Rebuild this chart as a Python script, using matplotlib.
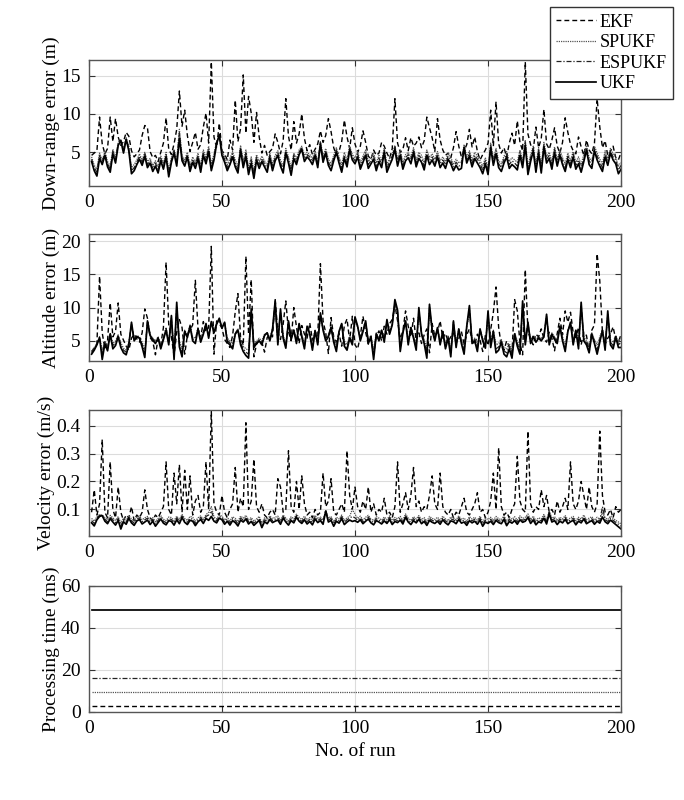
import numpy as np
import matplotlib
matplotlib.use("Agg")
import matplotlib.pyplot as plt

plt.rcParams['font.family'] = ['Liberation Serif', 'DejaVu Serif']
plt.rcParams['mathtext.fontset'] = 'stix'

runs = np.arange(1, 201)
filters = ['EKF', 'SPUKF', 'ESPUKF', 'UKF']

# Down-range error (m)
dr_ekf = [4.6, 4.9, 5.2, 9.6, 6.1, 4.8, 5.5, 9.6, 6.4, 9.4,
          7.0, 5.9, 6.4, 7.6, 7.1, 5.2, 4.4, 4.8, 5.3, 7.2,
          8.5, 8.2, 5.1, 4.3, 4.6, 3.8, 5.0, 6.2, 9.5, 5.4,
          4.7, 6.1, 8.0, 13.0, 8.4, 10.5, 7.2, 5.1, 6.3, 7.6,
          5.4, 6.0, 8.3, 10.1, 6.2, 16.8, 7.0, 5.6, 8.8, 5.2,
          4.8, 4.0, 6.6, 5.3, 11.8, 6.4, 8.1, 15.1, 7.5, 12.3,
          10.1, 6.3, 10.2, 7.0, 4.9, 5.9, 4.6, 5.1, 5.5, 7.4,
          6.3, 4.8, 6.5, 12.0, 7.1, 5.3, 9.0, 6.2, 7.4, 10.0,
          6.8, 5.2, 6.0, 4.7, 5.4, 6.1, 7.8, 6.3, 7.2, 9.4,
          7.7, 5.6, 4.6, 5.1, 6.4, 9.2, 7.0, 5.5, 8.2, 6.1,
          5.0, 5.8, 7.8, 6.3, 4.5, 4.1, 5.3, 4.6, 4.9, 6.3,
          5.8, 4.9, 4.2, 5.5, 12.0, 6.2, 5.0, 5.4, 6.9, 5.2,
          6.9, 5.8, 6.2, 7.0, 5.6, 6.5, 9.6, 8.2, 6.9, 5.1,
          9.4, 6.6, 5.3, 4.6, 4.9, 4.3, 5.6, 7.7, 5.8, 4.4,
          5.2, 6.0, 8.0, 5.7, 7.0, 5.1, 4.0, 4.7, 5.3, 6.2,
          10.5, 5.8, 11.6, 6.1, 4.9, 5.6, 4.4, 6.2, 7.5, 5.9,
          9.1, 6.3, 5.2, 16.8, 7.4, 6.0, 5.3, 8.3, 5.6, 6.8,
          10.6, 6.1, 5.4, 6.6, 8.2, 5.8, 4.9, 6.3, 9.5, 7.6,
          6.0, 5.2, 4.8, 7.0, 5.7, 4.6, 6.6, 5.3, 4.8, 6.2,
          12.0, 8.3, 5.6, 6.5, 4.6, 5.1, 5.8, 4.3, 4.0, 5.0]
dr_spukf = [4.4, 3.3, 2.8, 4.9, 4.0, 5.1, 3.8, 3.2, 5.4, 4.3,
            6.3, 6.6, 5.5, 6.9, 5.8, 3.0, 3.4, 4.0, 4.8, 4.0,
            5.0, 3.8, 4.2, 3.3, 3.9, 3.1, 4.5, 3.6, 5.0, 2.7,
            4.3, 5.4, 4.0, 8.0, 4.6, 4.0, 5.0, 3.3, 4.4, 3.7,
            4.9, 3.3, 5.3, 4.3, 5.8, 3.5, 4.8, 6.4, 7.0, 5.2,
            4.4, 3.4, 4.2, 5.1, 4.0, 3.2, 5.9, 3.9, 5.3, 3.0,
            4.4, 2.6, 4.7, 3.8, 4.5, 3.9, 3.3, 4.9, 3.5, 4.6,
            5.2, 4.0, 3.2, 5.5, 4.4, 3.0, 4.9, 4.2, 5.3, 5.8,
            4.6, 5.0, 4.7, 4.2, 5.2, 3.8, 6.4, 4.5, 5.5, 4.1,
            3.5, 4.6, 5.6, 4.4, 3.4, 5.0, 4.0, 5.8, 4.7, 4.3,
            5.1, 3.7, 4.5, 5.3, 3.8, 4.3, 4.9, 3.6, 4.6, 3.9,
            5.6, 3.4, 4.2, 4.8, 5.9, 4.1, 5.3, 3.7, 4.7, 5.0,
            4.4, 5.6, 4.0, 5.0, 4.6, 3.7, 5.3, 4.3, 4.8, 4.1,
            5.1, 3.9, 4.4, 3.8, 4.9, 4.3, 3.5, 4.1, 3.6, 3.8,
            6.0, 4.4, 5.2, 4.0, 5.0, 4.5, 3.9, 3.2, 4.3, 3.0,
            6.2, 4.2, 5.5, 3.9, 3.5, 4.5, 5.1, 3.8, 4.3, 4.0,
            3.7, 5.3, 3.9, 6.6, 3.1, 4.7, 5.8, 3.4, 5.6, 3.3,
            6.3, 4.5, 5.0, 3.8, 5.7, 4.1, 5.3, 4.3, 3.5, 4.9,
            3.9, 5.1, 3.7, 4.4, 3.4, 4.7, 5.9, 4.3, 3.9, 5.8,
            4.9, 4.1, 3.5, 5.2, 4.2, 5.5, 4.8, 4.4, 3.2, 3.7]
dr_espukf = [4.1, 3.0, 2.4, 4.6, 3.7, 4.9, 3.5, 2.8, 5.1, 4.0,
             6.1, 6.6, 5.2, 6.8, 5.5, 2.6, 3.0, 3.7, 4.5, 3.7,
             4.8, 3.4, 3.9, 2.9, 3.6, 2.7, 4.2, 3.2, 4.7, 2.3,
             4.0, 5.2, 3.6, 7.6, 4.3, 3.6, 4.7, 2.9, 4.1, 3.3,
             4.6, 2.9, 5.0, 3.9, 5.5, 3.0, 4.4, 6.3, 7.2, 4.9,
             4.1, 3.0, 3.8, 4.8, 3.6, 2.8, 5.6, 3.5, 4.9, 2.6,
             4.0, 2.1, 4.4, 3.4, 4.2, 3.5, 2.9, 4.6, 3.1, 4.3,
             4.9, 3.6, 2.8, 5.2, 4.0, 2.5, 4.6, 3.8, 5.0, 5.6,
             4.2, 4.7, 4.4, 3.8, 4.9, 3.4, 6.3, 4.1, 5.2, 3.7,
             3.1, 4.3, 5.3, 4.0, 2.9, 4.6, 3.6, 5.6, 4.4, 3.9,
             4.8, 3.2, 4.1, 5.0, 3.4, 3.9, 4.5, 3.1, 4.2, 3.5,
             5.3, 2.9, 3.8, 4.5, 5.7, 3.7, 5.0, 3.3, 4.3, 4.7,
             4.0, 5.3, 3.6, 4.6, 4.2, 3.2, 5.0, 3.9, 4.4, 3.7,
             4.8, 3.5, 4.0, 3.4, 4.5, 3.9, 3.1, 3.7, 3.2, 3.4,
             5.8, 4.0, 4.9, 3.6, 4.6, 4.1, 3.5, 2.7, 3.9, 2.6,
             5.9, 3.8, 5.2, 3.5, 3.0, 4.1, 4.8, 3.4, 3.9, 3.6,
             3.2, 5.0, 3.5, 6.3, 2.6, 4.3, 5.5, 2.9, 5.3, 2.8,
             6.0, 4.1, 4.6, 3.3, 5.4, 3.7, 5.0, 3.9, 3.0, 4.5,
             3.5, 4.8, 3.3, 4.0, 2.9, 4.3, 5.6, 3.9, 3.4, 5.5,
             4.5, 3.7, 3.0, 4.8, 3.8, 5.2, 4.4, 4.0, 2.7, 3.3]
dr_ukf = [3.8, 2.6, 1.9, 4.2, 3.4, 4.6, 3.1, 2.4, 4.8, 3.6,
          5.9, 6.5, 4.9, 6.7, 5.2, 2.2, 2.6, 3.4, 4.1, 3.3,
          4.5, 3.0, 3.6, 2.5, 3.2, 2.3, 3.9, 2.8, 4.4, 1.8,
          3.7, 4.9, 3.2, 6.8, 3.9, 3.2, 4.4, 2.5, 3.7, 2.9,
          4.2, 2.4, 4.6, 3.5, 5.1, 2.6, 4.0, 6.1, 7.3, 4.6,
          3.7, 2.6, 3.4, 4.4, 3.1, 2.3, 5.3, 3.0, 4.5, 2.1,
          3.6, 1.6, 4.0, 2.9, 3.8, 3.1, 2.4, 4.3, 2.6, 3.9,
          4.6, 3.2, 2.3, 4.9, 3.6, 2.0, 4.2, 3.4, 4.7, 5.4,
          3.8, 4.4, 4.0, 3.4, 4.6, 3.0, 6.1, 3.7, 4.9, 3.3,
          2.6, 3.9, 5.0, 3.6, 2.4, 4.2, 3.1, 5.3, 4.0, 3.5,
          4.4, 2.8, 3.7, 4.6, 2.9, 3.5, 4.1, 2.6, 3.8, 3.0,
          5.0, 2.4, 3.3, 4.1, 5.4, 3.2, 4.6, 2.8, 3.9, 4.3,
          3.5, 5.0, 3.1, 4.2, 3.7, 2.7, 4.6, 3.4, 4.0, 3.2,
          4.4, 3.0, 3.6, 2.9, 4.1, 3.5, 2.6, 3.3, 2.7, 2.9,
          5.6, 3.6, 4.5, 3.1, 4.2, 3.6, 3.0, 2.2, 3.5, 2.1,
          5.6, 3.3, 4.8, 3.0, 2.5, 3.6, 4.4, 2.9, 3.4, 3.1,
          2.7, 4.6, 3.0, 5.9, 2.1, 3.8, 5.2, 2.4, 4.9, 2.3,
          5.7, 3.6, 4.2, 2.8, 5.0, 3.2, 4.6, 3.4, 2.5, 4.1,
          3.0, 4.4, 2.8, 3.5, 2.4, 3.8, 5.3, 3.4, 2.9, 5.2,
          4.0, 3.2, 2.5, 4.4, 3.3, 4.9, 4.0, 3.5, 2.2, 2.8]

# Altitude error (m)
alt_ekf = [3.4, 3.9, 4.6, 14.7, 6.2, 3.8, 5.0, 10.7, 5.6, 6.4,
           10.7, 6.0, 5.1, 4.2, 3.6, 5.4, 6.0, 5.3, 4.8, 6.2,
           9.8, 8.4, 5.5, 4.9, 2.9, 5.3, 4.4, 7.0, 16.8, 7.4,
           5.6, 2.8, 6.3, 8.2, 7.0, 3.0, 5.8, 6.6, 7.4, 14.1,
           6.8, 5.5, 7.9, 6.4, 7.0, 19.2, 3.0, 8.0, 7.6, 6.9,
           5.2, 4.6, 4.0, 5.8, 9.4, 12.1, 5.5, 4.3, 17.7, 6.0,
           14.2, 2.6, 4.5, 5.1, 4.8, 3.3, 5.5, 6.0, 5.6, 11.2,
           6.3, 5.2, 7.5, 11.0, 6.4, 5.0, 10.0, 7.1, 4.6, 7.3,
           6.0, 5.4, 7.7, 5.1, 6.4, 5.7, 16.6, 8.0, 6.2, 3.1,
           8.5, 5.6, 4.8, 6.1, 4.2, 7.3, 8.3, 5.0, 8.7, 4.4,
           3.8, 5.7, 8.7, 6.3, 4.5, 5.3, 3.0, 5.6, 6.5, 5.0,
           7.2, 6.0, 7.6, 8.2, 10.4, 8.0, 5.3, 6.5, 9.5, 7.2,
           5.6, 8.4, 5.0, 6.2, 4.6, 5.9, 6.8, 3.2, 7.6, 5.7,
           6.3, 8.0, 5.4, 6.1, 4.9, 5.6, 6.2, 4.7, 5.3, 6.4,
           4.5, 5.9, 6.8, 5.2, 4.4, 6.0, 5.1, 3.4, 5.8, 4.3,
           6.7, 9.3, 13.1, 7.0, 4.2, 3.6, 5.0, 4.1, 3.2, 11.2,
           9.5, 4.6, 2.9, 15.7, 6.5, 5.2, 4.4, 6.0, 5.6, 6.8,
           5.3, 4.8, 6.3, 5.4, 3.5, 6.1, 8.4, 5.9, 9.5, 7.8,
           9.3, 6.2, 5.5, 7.0, 4.4, 6.3, 5.8, 3.3, 6.6, 7.4,
           18.1, 14.0, 6.3, 4.5, 5.4, 6.0, 7.1, 5.2, 4.8, 6.0]
alt_spukf = [3.4, 4.0, 4.6, 5.4, 3.6, 5.0, 4.2, 6.1, 4.6, 5.0,
             5.8, 4.7, 3.9, 3.6, 4.8, 7.2, 5.4, 5.8, 5.6, 4.8,
             3.6, 7.6, 6.0, 5.4, 5.0, 5.6, 4.4, 5.6, 7.0, 5.0,
             8.0, 3.4, 9.6, 5.0, 3.8, 6.6, 5.8, 7.4, 5.6, 5.4,
             7.0, 5.4, 6.4, 7.4, 5.9, 7.6, 6.6, 7.6, 8.0, 7.0,
             7.6, 5.4, 5.0, 4.6, 6.2, 6.8, 5.0, 4.2, 3.8, 3.6,
             9.0, 4.6, 5.0, 5.4, 5.0, 6.0, 6.2, 5.4, 6.8, 10.0,
             5.2, 9.0, 5.8, 4.6, 7.6, 5.6, 6.6, 5.2, 7.4, 6.0,
             4.6, 7.0, 6.2, 4.4, 6.6, 5.0, 8.8, 6.8, 5.6, 6.0,
             7.0, 5.4, 4.4, 6.4, 7.4, 5.0, 4.4, 5.8, 5.2, 8.0,
             7.0, 5.6, 6.6, 7.6, 5.2, 5.8, 3.6, 6.2, 5.4, 6.6,
             5.4, 7.8, 6.4, 7.6, 10.2, 9.0, 4.6, 6.4, 7.8, 5.2,
             7.0, 5.8, 4.6, 9.0, 6.2, 5.2, 3.8, 9.4, 6.6, 5.6,
             6.8, 5.0, 6.4, 4.6, 5.8, 3.8, 7.6, 4.8, 6.6, 5.2,
             4.2, 7.0, 9.2, 5.2, 5.4, 4.4, 6.6, 5.4, 4.6, 8.6,
             5.0, 6.6, 4.4, 4.6, 5.2, 4.0, 3.8, 4.6, 3.6, 6.2,
             5.0, 4.2, 9.8, 5.2, 7.4, 5.2, 5.8, 5.4, 5.6, 5.4,
             5.8, 8.4, 5.0, 6.2, 5.6, 5.2, 7.0, 5.6, 4.4, 6.6,
             7.4, 5.2, 6.6, 4.8, 9.6, 5.6, 5.0, 4.2, 6.2, 5.2,
             4.4, 5.6, 6.6, 4.6, 8.6, 5.2, 4.8, 5.8, 4.8, 5.6]
alt_espukf = [3.2, 3.8, 4.5, 5.6, 3.0, 4.8, 3.9, 6.2, 4.3, 4.7,
              5.9, 4.4, 3.6, 3.3, 4.6, 7.5, 5.2, 5.7, 5.5, 4.5,
              3.1, 7.8, 5.9, 5.3, 4.8, 5.5, 4.1, 5.4, 6.9, 4.7,
              8.4, 2.9, 10.2, 4.6, 3.3, 6.5, 5.7, 7.3, 5.3, 5.0,
              6.9, 5.1, 6.2, 7.5, 5.7, 7.8, 6.4, 7.6, 8.2, 7.0,
              7.7, 5.1, 4.7, 4.2, 6.1, 6.7, 4.7, 3.8, 3.3, 3.0,
              9.4, 4.3, 4.8, 5.2, 4.7, 5.9, 6.2, 5.2, 6.8, 10.5,
              4.8, 9.4, 5.6, 4.3, 7.8, 5.4, 6.6, 4.9, 7.5, 5.8,
              4.2, 7.1, 6.1, 4.0, 6.6, 4.7, 9.0, 6.7, 5.3, 5.8,
              7.0, 5.1, 3.9, 6.4, 7.5, 4.6, 4.0, 5.6, 4.8, 8.3,
              7.1, 5.3, 6.5, 7.8, 4.9, 5.7, 2.9, 6.1, 5.2, 6.6,
              5.1, 8.0, 6.2, 7.5, 10.7, 9.3, 4.0, 6.3, 7.9, 4.8,
              7.0, 5.6, 4.1, 9.5, 6.1, 4.9, 3.1, 10.0, 6.6, 5.3,
              6.9, 4.7, 6.4, 4.2, 5.6, 3.2, 7.8, 4.4, 6.7, 4.9,
              3.6, 7.1, 9.8, 4.9, 5.2, 3.9, 6.7, 5.2, 4.2, 9.0,
              4.5, 6.5, 3.8, 4.1, 5.0, 3.5, 3.2, 4.2, 3.0, 6.1,
              4.6, 3.6, 10.4, 4.8, 7.6, 4.9, 5.7, 5.1, 5.5, 5.2,
              5.7, 8.7, 4.7, 6.1, 5.4, 4.9, 7.1, 5.3, 3.9, 6.5,
              7.6, 4.8, 6.6, 4.3, 10.2, 5.3, 4.7, 3.7, 6.1, 4.9,
              3.7, 5.2, 6.6, 4.1, 9.0, 4.8, 4.3, 5.7, 4.4, 4.8]
alt_ukf = [3.0, 3.6, 4.4, 5.5, 2.2, 4.6, 3.5, 6.0, 3.8, 4.3,
           5.6, 4.0, 3.2, 2.9, 4.4, 7.8, 5.0, 5.6, 5.4, 4.1,
           2.5, 8.0, 5.8, 5.1, 4.6, 5.4, 3.8, 5.2, 6.6, 4.4,
           8.8, 2.2, 10.8, 4.1, 2.6, 6.4, 5.5, 7.2, 5.0, 4.6,
           6.8, 4.8, 6.0, 7.6, 5.4, 7.9, 6.2, 7.5, 8.4, 6.9,
           7.8, 4.8, 4.4, 3.8, 6.0, 6.6, 4.4, 3.4, 2.8, 2.4,
           9.8, 4.0, 4.6, 5.0, 4.4, 5.8, 6.2, 5.0, 6.7, 11.0,
           4.4, 9.8, 5.4, 3.9, 8.0, 5.2, 6.6, 4.6, 7.6, 5.6,
           3.8, 7.2, 6.0, 3.6, 6.5, 4.4, 9.2, 6.6, 5.0, 5.6,
           7.0, 4.8, 3.4, 6.4, 7.6, 4.2, 3.6, 5.4, 4.4, 8.6,
           7.2, 5.0, 6.4, 8.0, 4.6, 5.6, 2.2, 6.0, 5.0, 6.6,
           4.8, 8.2, 6.0, 7.4, 11.2, 9.6, 3.4, 6.2, 8.0, 4.4,
           7.0, 5.4, 3.6, 10.0, 6.0, 4.6, 2.4, 10.5, 6.6, 5.0,
           7.0, 4.4, 6.4, 3.8, 5.4, 2.6, 8.0, 4.0, 6.8, 4.6,
           3.0, 7.2, 10.3, 4.6, 5.0, 3.4, 6.8, 5.0, 3.9, 9.5,
           4.0, 6.4, 3.2, 3.6, 4.8, 3.0, 2.6, 3.8, 2.4, 6.0,
           4.2, 3.0, 11.0, 4.4, 7.8, 4.6, 5.6, 4.8, 5.4, 5.0,
           5.6, 9.0, 4.4, 6.0, 5.2, 4.6, 7.2, 5.0, 3.4, 6.4,
           7.8, 4.4, 6.6, 3.8, 10.8, 5.0, 4.4, 3.2, 6.0, 4.6,
           3.0, 4.8, 6.6, 3.6, 9.5, 4.4, 3.8, 5.6, 4.0, 4.0]

# Velocity error (m/s)
vel_ekf = [0.09, 0.17, 0.08, 0.12, 0.35, 0.09, 0.07, 0.27, 0.10, 0.07,
           0.18, 0.09, 0.06, 0.08, 0.07, 0.11, 0.06, 0.08, 0.07, 0.09,
           0.17, 0.10, 0.07, 0.06, 0.08, 0.07, 0.09, 0.11, 0.27, 0.10,
           0.08, 0.23, 0.12, 0.26, 0.09, 0.24, 0.10, 0.22, 0.08, 0.13,
           0.15, 0.09, 0.11, 0.27, 0.10, 0.45, 0.12, 0.09, 0.08, 0.15,
           0.09, 0.07, 0.10, 0.12, 0.25, 0.09, 0.14, 0.11, 0.41, 0.10,
           0.13, 0.28, 0.11, 0.09, 0.12, 0.08, 0.07, 0.09, 0.10, 0.08,
           0.21, 0.18, 0.09, 0.10, 0.31, 0.11, 0.09, 0.20, 0.10, 0.22,
           0.12, 0.08, 0.09, 0.07, 0.10, 0.08, 0.09, 0.23, 0.11, 0.13,
           0.21, 0.09, 0.08, 0.10, 0.12, 0.09, 0.31, 0.15, 0.10, 0.18,
           0.11, 0.09, 0.13, 0.10, 0.18, 0.09, 0.12, 0.08, 0.10, 0.09,
           0.14, 0.08, 0.09, 0.07, 0.11, 0.27, 0.09, 0.12, 0.16, 0.10,
           0.15, 0.25, 0.11, 0.13, 0.09, 0.11, 0.10, 0.15, 0.22, 0.12,
           0.10, 0.23, 0.11, 0.09, 0.08, 0.10, 0.07, 0.09, 0.08, 0.11,
           0.14, 0.09, 0.08, 0.10, 0.12, 0.16, 0.09, 0.10, 0.07, 0.09,
           0.13, 0.23, 0.10, 0.32, 0.11, 0.08, 0.09, 0.07, 0.10, 0.12,
           0.29, 0.13, 0.10, 0.09, 0.38, 0.12, 0.09, 0.11, 0.10, 0.17,
           0.11, 0.15, 0.09, 0.10, 0.08, 0.13, 0.09, 0.11, 0.14, 0.10,
           0.27, 0.12, 0.10, 0.13, 0.20, 0.15, 0.10, 0.18, 0.11, 0.09,
           0.12, 0.38, 0.15, 0.09, 0.08, 0.10, 0.07, 0.11, 0.09, 0.10]
vel_spukf = [0.068, 0.058, 0.074, 0.082, 0.080, 0.071, 0.063, 0.079, 0.070, 0.061,
             0.074, 0.052, 0.069, 0.062, 0.078, 0.066, 0.058, 0.072, 0.076, 0.063,
             0.070, 0.075, 0.061, 0.071, 0.056, 0.068, 0.078, 0.065, 0.060, 0.073,
             0.071, 0.060, 0.076, 0.064, 0.082, 0.068, 0.061, 0.075, 0.072, 0.058,
             0.070, 0.077, 0.065, 0.081, 0.090, 0.110, 0.073, 0.066, 0.080, 0.076,
             0.062, 0.072, 0.059, 0.074, 0.068, 0.057, 0.076, 0.069, 0.079, 0.063,
             0.071, 0.058, 0.066, 0.075, 0.052, 0.070, 0.064, 0.077, 0.067, 0.072,
             0.076, 0.062, 0.080, 0.069, 0.059, 0.074, 0.066, 0.083, 0.072, 0.064,
             0.076, 0.063, 0.071, 0.060, 0.079, 0.067, 0.073, 0.062, 0.095, 0.069,
             0.075, 0.056, 0.072, 0.066, 0.080, 0.061, 0.070, 0.076, 0.100, 0.083,
             0.068, 0.076, 0.063, 0.072, 0.079, 0.066, 0.060, 0.074, 0.069, 0.062,
             0.073, 0.064, 0.077, 0.061, 0.071, 0.067, 0.075, 0.062, 0.084, 0.069,
             0.061, 0.074, 0.066, 0.078, 0.063, 0.071, 0.058, 0.075, 0.068, 0.064,
             0.072, 0.062, 0.076, 0.066, 0.060, 0.073, 0.070, 0.063, 0.077, 0.065,
             0.069, 0.058, 0.074, 0.066, 0.072, 0.062, 0.076, 0.056, 0.069, 0.064,
             0.072, 0.061, 0.075, 0.067, 0.063, 0.078, 0.057, 0.071, 0.065, 0.074,
             0.062, 0.077, 0.068, 0.072, 0.084, 0.064, 0.076, 0.060, 0.070, 0.066,
             0.082, 0.063, 0.095, 0.069, 0.074, 0.061, 0.072, 0.066, 0.078, 0.063,
             0.070, 0.075, 0.060, 0.072, 0.066, 0.080, 0.063, 0.069, 0.074, 0.062,
             0.072, 0.065, 0.088, 0.070, 0.064, 0.076, 0.068, 0.061, 0.055, 0.048]
vel_espukf = [0.060, 0.050, 0.069, 0.079, 0.077, 0.065, 0.056, 0.073, 0.063, 0.053,
              0.068, 0.041, 0.063, 0.055, 0.073, 0.059, 0.051, 0.066, 0.070, 0.056,
              0.063, 0.069, 0.054, 0.065, 0.048, 0.061, 0.072, 0.058, 0.053, 0.067,
              0.064, 0.052, 0.070, 0.057, 0.077, 0.061, 0.054, 0.068, 0.065, 0.050,
              0.063, 0.071, 0.058, 0.075, 0.080, 0.095, 0.066, 0.059, 0.075, 0.070,
              0.055, 0.065, 0.052, 0.067, 0.061, 0.049, 0.069, 0.062, 0.073, 0.056,
              0.064, 0.051, 0.059, 0.068, 0.044, 0.063, 0.057, 0.071, 0.060, 0.065,
              0.069, 0.055, 0.075, 0.062, 0.052, 0.067, 0.059, 0.078, 0.065, 0.057,
              0.070, 0.056, 0.064, 0.053, 0.073, 0.060, 0.067, 0.055, 0.098, 0.062,
              0.068, 0.048, 0.065, 0.059, 0.074, 0.054, 0.063, 0.069, 0.075, 0.070,
              0.061, 0.070, 0.056, 0.065, 0.073, 0.059, 0.053, 0.067, 0.062, 0.055,
              0.066, 0.057, 0.071, 0.054, 0.064, 0.060, 0.069, 0.055, 0.078, 0.062,
              0.054, 0.067, 0.059, 0.072, 0.056, 0.064, 0.051, 0.068, 0.061, 0.057,
              0.065, 0.055, 0.070, 0.059, 0.053, 0.066, 0.063, 0.056, 0.071, 0.058,
              0.062, 0.051, 0.067, 0.059, 0.065, 0.055, 0.069, 0.048, 0.062, 0.057,
              0.065, 0.054, 0.068, 0.060, 0.056, 0.071, 0.050, 0.064, 0.058, 0.067,
              0.055, 0.070, 0.061, 0.065, 0.078, 0.057, 0.069, 0.053, 0.063, 0.059,
              0.076, 0.056, 0.090, 0.062, 0.067, 0.054, 0.065, 0.059, 0.071, 0.056,
              0.063, 0.068, 0.053, 0.065, 0.059, 0.073, 0.056, 0.062, 0.067, 0.055,
              0.065, 0.058, 0.110, 0.063, 0.057, 0.069, 0.061, 0.054, 0.047, 0.040]
vel_ukf = [0.052, 0.041, 0.063, 0.075, 0.078, 0.058, 0.049, 0.067, 0.055, 0.044,
           0.061, 0.030, 0.056, 0.047, 0.068, 0.052, 0.043, 0.059, 0.064, 0.048,
           0.055, 0.062, 0.046, 0.058, 0.040, 0.053, 0.066, 0.051, 0.045, 0.060,
           0.057, 0.044, 0.063, 0.049, 0.071, 0.054, 0.046, 0.061, 0.058, 0.042,
           0.056, 0.064, 0.050, 0.068, 0.061, 0.075, 0.058, 0.052, 0.069, 0.063,
           0.047, 0.058, 0.044, 0.060, 0.053, 0.041, 0.062, 0.055, 0.066, 0.048,
           0.057, 0.043, 0.052, 0.061, 0.035, 0.056, 0.049, 0.064, 0.053, 0.058,
           0.062, 0.047, 0.069, 0.055, 0.044, 0.060, 0.052, 0.072, 0.058, 0.050,
           0.063, 0.048, 0.057, 0.045, 0.066, 0.053, 0.060, 0.047, 0.094, 0.055,
           0.061, 0.040, 0.058, 0.051, 0.067, 0.046, 0.055, 0.062, 0.057, 0.060,
           0.054, 0.063, 0.049, 0.058, 0.066, 0.052, 0.045, 0.060, 0.055, 0.048,
           0.059, 0.050, 0.064, 0.046, 0.057, 0.053, 0.062, 0.048, 0.072, 0.055,
           0.046, 0.060, 0.052, 0.065, 0.049, 0.057, 0.043, 0.061, 0.054, 0.050,
           0.058, 0.047, 0.063, 0.052, 0.045, 0.059, 0.056, 0.049, 0.064, 0.051,
           0.055, 0.043, 0.060, 0.052, 0.058, 0.047, 0.062, 0.040, 0.055, 0.050,
           0.058, 0.046, 0.061, 0.053, 0.049, 0.064, 0.042, 0.057, 0.051, 0.060,
           0.047, 0.063, 0.054, 0.058, 0.071, 0.050, 0.062, 0.045, 0.056, 0.052,
           0.069, 0.048, 0.085, 0.055, 0.060, 0.046, 0.058, 0.052, 0.064, 0.049,
           0.056, 0.061, 0.045, 0.058, 0.052, 0.066, 0.049, 0.055, 0.060, 0.047,
           0.058, 0.051, 0.073, 0.056, 0.049, 0.062, 0.054, 0.046, 0.038, 0.030]

# Processing time (ms), flat for every run
pt_ekf = [2.7] * 200
pt_spukf = [9.5] * 200
pt_espukf = [16.2] * 200
pt_ukf = [48.6] * 200

styles = {
    'EKF': dict(color='black', linestyle=(0, (3.5, 2.2)), linewidth=1.0),
    'SPUKF': dict(color='#555555', linestyle=(0, (1, 0.8)), linewidth=0.9),
    'ESPUKF': dict(color='#222222', linestyle=(0, (4, 1.5, 1, 1.5)), linewidth=0.9),
    'UKF': dict(color='black', linestyle='-', linewidth=1.25),
}

panels = [
    ([dr_ekf, dr_spukf, dr_espukf, dr_ukf], "Down-range error (m)", (0.6, 17.1), [5, 10, 15]),
    ([alt_ekf, alt_spukf, alt_espukf, alt_ukf], "Altitude error (m)", (2.0, 21.0), [5, 10, 15, 20]),
    ([vel_ekf, vel_spukf, vel_espukf, vel_ukf], "Velocity error (m/s)", (0.005, 0.457), [0.1, 0.2, 0.3, 0.4]),
    ([pt_ekf, pt_spukf, pt_espukf, pt_ukf], "Processing time (ms)", (0, 60), [0, 20, 40, 60]),
]

bottoms = [0.7675, 0.549, 0.33, 0.11]

fig = plt.figure(figsize=(6.84, 8), dpi=100)
axes = []
for (series, ylabel, ylim, yticks), b in zip(panels, bottoms):
    ax = fig.add_axes([0.130, b, 0.778, 0.158])
    for name, vals in zip(filters, series):
        ax.plot(runs, vals, label=name, **styles[name])
    ax.set_xlim(0, 200)
    ax.set_ylim(*ylim)
    ax.set_xticks([0, 50, 100, 150, 200])
    ax.set_yticks(yticks)
    ax.set_ylabel(ylabel, fontsize=14, labelpad=1)
    ax.grid(True, color='#dcdcdc', linewidth=0.8)
    ax.set_axisbelow(True)
    ax.tick_params(direction='in', top=True, right=True, length=4,
                   labelsize=14, color='#333333', pad=6)
    for sp in ax.spines.values():
        sp.set_color('#555555')
        sp.set_linewidth(1.0)
    axes.append(ax)

axes[-1].set_xlabel("No. of run", fontsize=14)

leg = axes[0].legend(loc='upper right', bbox_to_anchor=(0.984, 0.991),
                     bbox_transform=fig.transFigure, fontsize=13,
                     handlelength=2.2, handletextpad=0.2, labelspacing=0.2,
                     borderpad=0.35, borderaxespad=0.0, fancybox=False,
                     framealpha=1.0, edgecolor='#333333')
leg.get_frame().set_linewidth(1.0)

fig.savefig("out.png", dpi=100)
